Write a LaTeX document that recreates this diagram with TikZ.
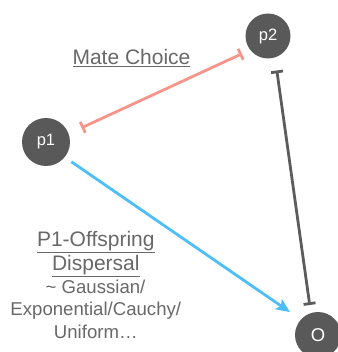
\documentclass[tikz,border=0pt]{standalone}
\usepackage{fontspec}
\setmainfont{Liberation Sans}
\usetikzlibrary{arrows.meta}
\definecolor{nodegray}{HTML}{595959}
\definecolor{linegray}{HTML}{5C5C5C}
\definecolor{matered}{HTML}{F8958A}
\definecolor{dispblue}{HTML}{4DBEF7}
\definecolor{txtgray}{HTML}{686868}
\begin{document}
\begin{tikzpicture}[x=1pt,y=-1pt,
  circ/.style={circle, fill=nodegray, text=white, inner sep=0pt, font=\fontsize{16.5}{18}\selectfont},
  bigtxt/.style={anchor=base, text=txtgray, inner sep=0pt, font=\fontsize{21}{24}\selectfont},
  smalltxt/.style={anchor=base, text=txtgray, inner sep=0pt, font=\fontsize{18.6}{22}\selectfont},
  conn/.style={line width=2.8pt}
]
\useasboundingbox (0,0) rectangle (337,352);
\node[circ, minimum size=48pt] (p1) at (46,142) {p1};
\node[circ, minimum size=45pt] (p2) at (268,36) {p2};
\node[circ, minimum size=46pt, font=\fontsize{18.5}{20}\selectfont] (o) at (318,335) {O};

\draw[conn, matered, {Bar[width=12pt]}-{Bar[width=12pt]}, shorten <=14pt, shorten >=9pt] (p1.20) -- (p2.218);
\draw[conn, linegray, {Bar[width=12pt]}-{Bar[width=12pt]}, shorten <=13pt, shorten >=8pt] (p2.-72) -- (o.108);
\draw[conn, dispblue, -{Stealth[length=14pt,width=12pt,inset=3pt]}, shorten <=8pt, shorten >=13pt] (p1.-39) -- (o.138);

\node[bigtxt] (mc) at (131.5,65) {\underline{Mate Choice}};
\node[bigtxt] (l1) at (95.8,246.7) {\underline{P1-Offspring}};
\node[bigtxt] (l2) at (95.8,270) {\underline{Dispersal}};
\node[smalltxt] (l3) at (95.5,293.3) {\textasciitilde{} Gaussian/};
\node[smalltxt] (l4) at (95.8,315.5) {Exponential/Cauchy/};
\node[smalltxt] (l5) at (95.8,338) {Uniform…};
\end{tikzpicture}
\end{document}
